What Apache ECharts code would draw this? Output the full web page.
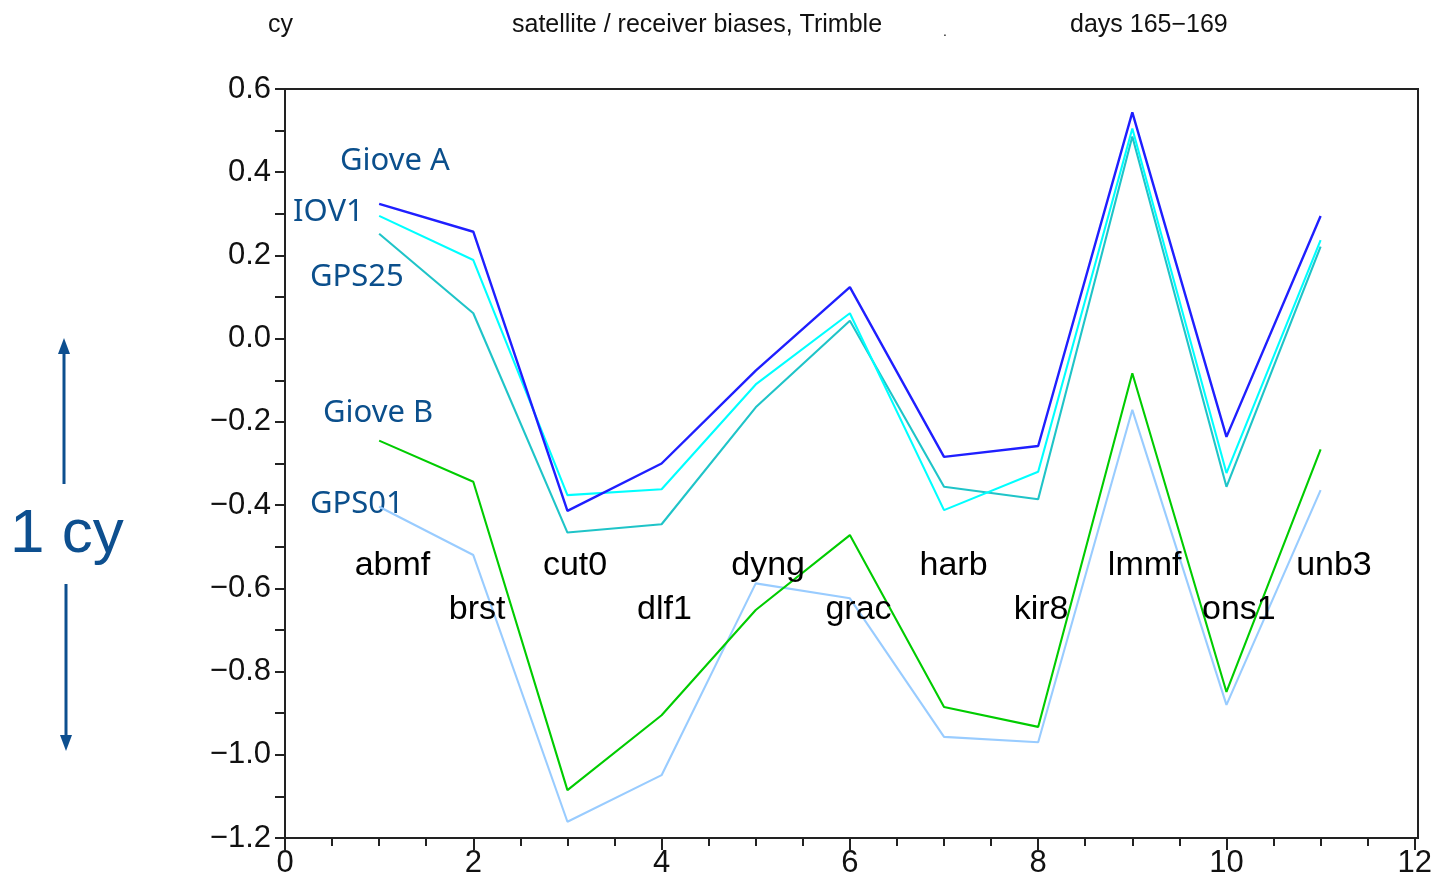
<!DOCTYPE html>
<html>
<head>
<meta charset="utf-8">
<title>satellite / receiver biases, Trimble</title>
<script src="https://cdn.jsdelivr.net/npm/echarts@6/dist/echarts.min.js"></script>
<style>
  html, body { margin: 0; padding: 0; background: #fff; }
  #chart { width: 1435px; height: 891px; }
</style>
</head>
<body>
<div id="chart"></div>
<script>
// Receiver index (1..11) along the x axis
const receiverIndex = [1, 2, 3, 4, 5, 6, 7, 8, 9, 10, 11];
const stations = ['abmf', 'brst', 'cut0', 'dlf1', 'dyng', 'grac', 'harb', 'kir8', 'lmmf', 'ons1', 'unb3'];

// Biases in cycles per satellite
const gioveA = [0.324, 0.257, -0.414, -0.300, -0.077, 0.124, -0.284, -0.258, 0.544, -0.236, 0.295];
const iov1   = [0.295, 0.189, -0.376, -0.362, -0.110, 0.061, -0.412, -0.320, 0.505, -0.323, 0.237];
const gps25  = [0.252, 0.061, -0.466, -0.446, -0.165, 0.043, -0.356, -0.386, 0.486, -0.356, 0.221];
const gioveB = [-0.245, -0.344, -1.085, -0.905, -0.652, -0.472, -0.885, -0.933, -0.083, -0.849, -0.266];
const gps01  = [-0.404, -0.520, -1.161, -1.049, -0.588, -0.624, -0.957, -0.970, -0.171, -0.880, -0.364];

const seriesNames = ['Giove A', 'IOV1', 'GPS25', 'Giove B', 'GPS01'];
const seriesValues = [gioveA, iov1, gps25, gioveB, gps01];
const seriesColors = ['#1f1fff', '#00ffff', '#1fc4c8', '#00cc00', '#99ccff'];

const xTicks = [0, 2, 4, 6, 8, 10, 12];
const yTicks = [0.6, 0.4, 0.2, 0.0, -0.2, -0.4, -0.6, -0.8, -1.0, -1.2];

// station name rows alternate between two heights, text starts a little left of each receiver
const rowLevel = [-0.545, -0.65];
const nameShift = -0.26;

const chart = echarts.init(document.getElementById('chart'));

const axisFont = { fontFamily: 'Liberation Sans, Arial, sans-serif', fontSize: 31, color: '#111' };
const noteColor = '#0b4f8c';
const noteFont = '"Comic Sans MS", "Noto Sans", sans-serif';

const lineSeries = seriesNames.map((name, k) => ({
  name: name,
  type: 'line',
  data: receiverIndex.map((x, i) => [x, seriesValues[k][i]]),
  symbol: 'none',
  lineStyle: { color: seriesColors[k], width: k === 0 ? 2.4 : 2.1 },
  z: 10 - k,
  animation: false
}));

const stationSeries = {
  type: 'scatter',
  symbolSize: 0,
  itemStyle: { color: '#000' },
  data: stations.map((s, i) => ({ name: s, value: [receiverIndex[i] + nameShift, rowLevel[i % 2]] })),
  label: {
    show: true,
    position: 'inside',
    align: 'left',
    verticalAlign: 'middle',
    formatter: p => p.name,
    fontFamily: 'Liberation Sans, Arial, sans-serif',
    fontSize: 34,
    color: '#000',
    opacity: 1
  },
  z: 20,
  silent: true,
  animation: false
};

const fmt = v => {
  const s = Number(v).toFixed(1);
  return s.replace('-', '\u2212');
};

chart.setOption({
  backgroundColor: '#fff',
  animation: false,
  grid: { left: 285, right: 17, top: 89, bottom: 53, containLabel: false },
  xAxis: {
    type: 'value',
    min: xTicks[0], max: xTicks[xTicks.length - 1], interval: 2,
    axisLine: { show: true, onZero: false, lineStyle: { color: '#222', width: 2 } },
    axisTick: { show: true, inside: false, length: 12, lineStyle: { color: '#222', width: 2 } },
    minorTick: { show: true, splitNumber: 4, length: 8, lineStyle: { color: '#222', width: 2 } },
    splitLine: { show: false },
    axisLabel: Object.assign({ margin: 10, formatter: v => String(v) }, axisFont)
  },
  yAxis: {
    type: 'value',
    min: yTicks[yTicks.length - 1], max: yTicks[0], interval: 0.2,
    axisLine: { show: true, onZero: false, lineStyle: { color: '#222', width: 2 } },
    axisTick: { show: true, inside: false, length: 10, lineStyle: { color: '#222', width: 2 } },
    minorTick: { show: true, splitNumber: 2, length: 10, lineStyle: { color: '#222', width: 2 } },
    splitLine: { show: false },
    axisLabel: Object.assign({ margin: 14, formatter: fmt }, axisFont)
  },
  series: lineSeries.concat([stationSeries]),
  graphic: [
    // frame closing the plot on top and right
    { type: 'rect', shape: { x: 285, y: 89, width: 1133, height: 749 }, style: { fill: 'none', stroke: '#222', lineWidth: 2 }, silent: true, z: 0 },
    // header
    { type: 'text', left: 268, top: 13, style: { text: 'cy', font: '25px "Liberation Sans", Arial, sans-serif', fill: '#111' } },
    { type: 'text', left: 512, top: 13, style: { text: 'satellite / receiver biases, Trimble', font: '25px "Liberation Sans", Arial, sans-serif', fill: '#111' } },
    { type: 'text', left: 943, top: 25, style: { text: '.', font: '14px "Liberation Sans", Arial, sans-serif', fill: '#111' } },
    { type: 'text', left: 1070, top: 13, style: { text: 'days 165\u2212169', font: '25px "Liberation Sans", Arial, sans-serif', fill: '#111' } },
    // series names next to their curves
    { type: 'text', left: 340, top: 146, style: { text: seriesNames[0], font: '31px ' + noteFont, fill: noteColor } },
    { type: 'text', left: 293, top: 197, style: { text: seriesNames[1], font: '31px ' + noteFont, fill: noteColor } },
    { type: 'text', left: 310, top: 262, style: { text: seriesNames[2], font: '31px ' + noteFont, fill: noteColor } },
    { type: 'text', left: 323, top: 398, style: { text: seriesNames[3], font: '31px ' + noteFont, fill: noteColor } },
    { type: 'text', left: 310, top: 489, style: { text: seriesNames[4], font: '31px ' + noteFont, fill: noteColor } },
    // 1 cy scale bar with arrows
    { type: 'text', left: 10, top: 504, style: { text: '1 cy', font: '62px "Liberation Sans", Arial, sans-serif', fill: '#0d4f8f' } },
    { type: 'line', shape: { x1: 64, y1: 484, x2: 64, y2: 350 }, style: { stroke: '#0d4f8f', lineWidth: 3 } },
    { type: 'polygon', shape: { points: [[64, 338], [58, 354], [70, 354]] }, style: { fill: '#0d4f8f' } },
    { type: 'line', shape: { x1: 66, y1: 584, x2: 66, y2: 738 }, style: { stroke: '#0d4f8f', lineWidth: 3 } },
    { type: 'polygon', shape: { points: [[66, 751], [60, 735], [72, 735]] }, style: { fill: '#0d4f8f' } }
  ]
});
</script>
</body>
</html>
